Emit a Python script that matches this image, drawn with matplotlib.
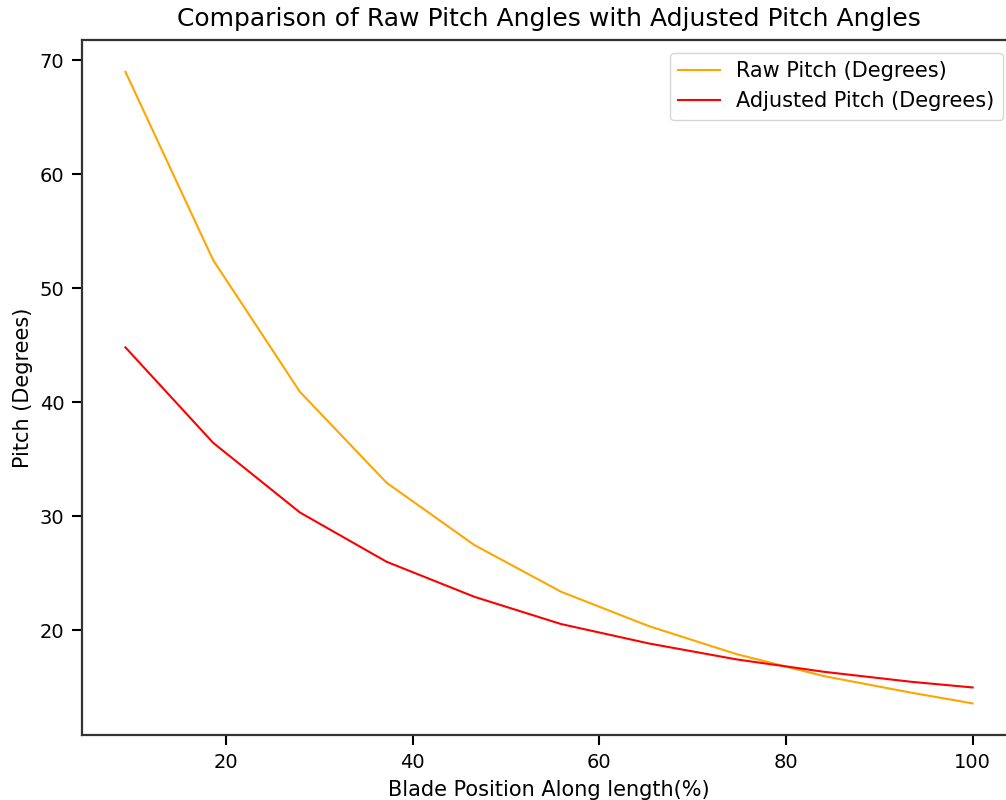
import matplotlib
matplotlib.use("Agg")
import matplotlib.pyplot as plt

blade_position = [9.2, 18.6, 27.9, 37.2, 46.6, 55.9, 65.3, 74.7, 84.1, 93.5, 100.0]
raw_pitch = [68.97, 52.46, 40.90, 32.92, 27.46, 23.36, 20.35, 17.89, 15.96, 14.50, 13.57]
adjusted_pitch = [44.80, 36.43, 30.32, 25.99, 22.92, 20.53, 18.83, 17.43, 16.34, 15.46, 14.97]

fig = plt.figure(figsize=(10.06, 8.0), dpi=100)
ax = fig.add_axes([0.082, 0.08125, 0.9275, 0.8685])
ax.plot(blade_position, raw_pitch, color="orange", lw=1.5, label="Raw Pitch (Degrees)")
ax.plot(blade_position, adjusted_pitch, color="red", lw=1.5, label="Adjusted Pitch (Degrees)")
ax.set_xlim(4.6, 104.6)
ax.set_ylim(10.8, 71.74)
ax.set_xticks([20, 40, 60, 80, 100])
ax.set_yticks([20, 30, 40, 50, 60, 70])
ax.tick_params(labelsize=14, length=7, width=1.5, pad=6)
for s in ax.spines.values():
    s.set_linewidth(1.6)
    s.set_color("#333333")
ax.set_title("Comparison of Raw Pitch Angles with Adjusted Pitch Angles", fontsize=18, pad=10)
ax.set_xlabel("Blade Position Along length(%)", fontsize=15, labelpad=6)
ax.set_ylabel("Pitch (Degrees)", fontsize=15, labelpad=5)
ax.legend(loc="upper right", fontsize=15, borderaxespad=0.6)
fig.savefig("out.png", dpi=100)
